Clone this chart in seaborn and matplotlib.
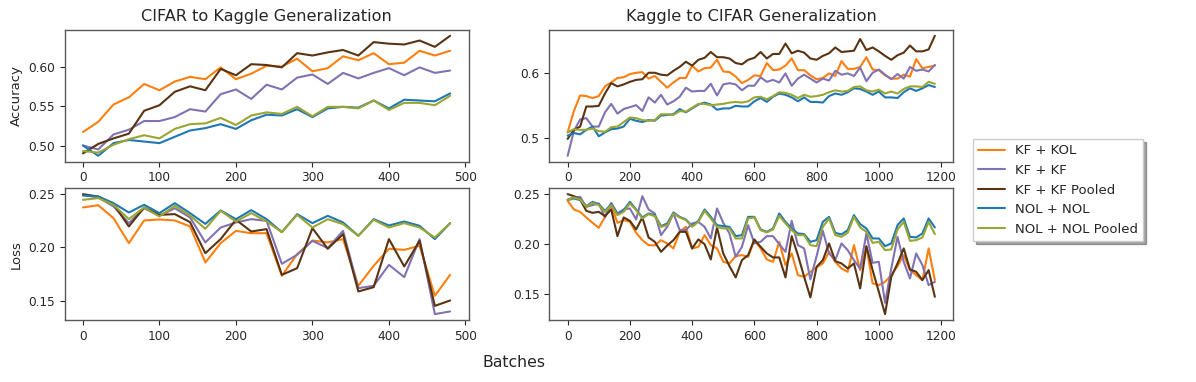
import pandas as pd
import numpy as np
import matplotlib
matplotlib.use("Agg")
import matplotlib.pyplot as plt
from matplotlib.ticker import MultipleLocator
import seaborn as sns

sns.set_style("ticks")
plt.rcParams['font.family'] = ['DejaVu Sans']
plt.rcParams['axes.edgecolor'] = '0.35'
plt.rcParams['xtick.color'] = '0.15'
plt.rcParams['ytick.color'] = '0.15'

labels = ['KF + KOL', 'KF + KF', 'KF + KF Pooled', 'NOL + NOL', 'NOL + NOL Pooled']
colors = ['#ff7f0e', '#8172b3', '#5a3412', '#1f77b4', '#9aa632']

# batches (x values)
batches_left = list(range(0, 500, 20))
batches_right = list(range(0, 1200, 20))

# CIFAR -> Kaggle accuracy
kol_acc_l = [0.517, 0.530, 0.552, 0.561, 0.578, 0.570, 0.581, 0.587, 0.584, 0.599, 0.584, 0.591, 0.601,
             0.600, 0.610, 0.594, 0.598, 0.613, 0.608, 0.617, 0.603, 0.605, 0.620, 0.614, 0.620]
kf_acc_l = [0.500, 0.495, 0.514, 0.520, 0.531, 0.531, 0.536, 0.546, 0.543, 0.565, 0.571, 0.559, 0.577,
            0.571, 0.586, 0.590, 0.578, 0.592, 0.585, 0.592, 0.598, 0.589, 0.599, 0.592, 0.595]
kfp_acc_l = [0.490, 0.502, 0.509, 0.515, 0.544, 0.551, 0.568, 0.575, 0.570, 0.597, 0.589, 0.603, 0.602,
             0.599, 0.617, 0.614, 0.618, 0.621, 0.614, 0.631, 0.629, 0.628, 0.633, 0.625, 0.639]
nol_acc_l = [0.500, 0.487, 0.503, 0.507, 0.505, 0.503, 0.511, 0.519, 0.522, 0.527, 0.521, 0.532, 0.539,
             0.538, 0.546, 0.536, 0.547, 0.549, 0.548, 0.557, 0.547, 0.558, 0.557, 0.556, 0.566]
nolp_acc_l = [0.493, 0.491, 0.501, 0.508, 0.513, 0.509, 0.521, 0.527, 0.528, 0.535, 0.526, 0.538, 0.542,
              0.540, 0.549, 0.537, 0.549, 0.549, 0.547, 0.557, 0.545, 0.554, 0.554, 0.551, 0.563]

# CIFAR -> Kaggle loss
kol_loss_l = [0.2373, 0.2394, 0.2273, 0.2040, 0.2252, 0.2261, 0.2252, 0.2196, 0.1860, 0.2040, 0.2155, 0.2133,
              0.2133, 0.1736, 0.1938, 0.2065, 0.2047, 0.2078, 0.1643, 0.1829, 0.1988, 0.1978, 0.2016, 0.1550, 0.1745]
kf_loss_l = [0.2491, 0.2466, 0.2382, 0.2227, 0.2366, 0.2295, 0.2366, 0.2280, 0.2047, 0.2186, 0.2233, 0.2264,
             0.2248, 0.1848, 0.1932, 0.2062, 0.1994, 0.2155, 0.1621, 0.1643, 0.1838, 0.1724, 0.2078, 0.1379, 0.1404]
kfp_loss_l = [0.2497, 0.2475, 0.2404, 0.2196, 0.2373, 0.2304, 0.2311, 0.2236, 0.1947, 0.2078, 0.2258, 0.2149,
              0.2171, 0.1745, 0.1807, 0.2180, 0.1988, 0.2124, 0.1590, 0.1630, 0.2078, 0.1823, 0.2062, 0.1456, 0.1506]
nol_loss_l = [0.2484, 0.2475, 0.2413, 0.2326, 0.2398, 0.2320, 0.2413, 0.2320, 0.2220, 0.2345, 0.2264, 0.2348,
              0.2264, 0.2143, 0.2311, 0.2227, 0.2295, 0.2233, 0.2109, 0.2264, 0.2205, 0.2242, 0.2202, 0.2078, 0.2227]
nolp_loss_l = [0.2444, 0.2460, 0.2398, 0.2264, 0.2373, 0.2289, 0.2388, 0.2298, 0.2174, 0.2342, 0.2242, 0.2320,
               0.2242, 0.2143, 0.2304, 0.2186, 0.2264, 0.2217, 0.2109, 0.2258, 0.2186, 0.2227, 0.2186, 0.2093, 0.2227]

# Kaggle -> CIFAR accuracy
kol_acc_r = [0.509, 0.542, 0.566, 0.565, 0.562, 0.565, 0.580, 0.586, 0.593, 0.594,
             0.599, 0.601, 0.602, 0.592, 0.596, 0.587, 0.578, 0.586, 0.593, 0.593,
             0.612, 0.603, 0.608, 0.609, 0.621, 0.603, 0.602, 0.595, 0.585, 0.590,
             0.597, 0.596, 0.616, 0.605, 0.606, 0.612, 0.623, 0.605, 0.605, 0.597,
             0.591, 0.593, 0.600, 0.596, 0.619, 0.607, 0.607, 0.610, 0.625, 0.606,
             0.605, 0.597, 0.592, 0.592, 0.598, 0.595, 0.622, 0.608, 0.610, 0.612]
kf_acc_r = [0.473, 0.511, 0.529, 0.531, 0.518, 0.518, 0.540, 0.553, 0.538, 0.545,
            0.548, 0.551, 0.542, 0.563, 0.555, 0.567, 0.552, 0.557, 0.564, 0.578,
            0.572, 0.573, 0.573, 0.584, 0.566, 0.583, 0.585, 0.583, 0.574, 0.581,
            0.581, 0.594, 0.587, 0.590, 0.586, 0.600, 0.581, 0.592, 0.598, 0.592,
            0.586, 0.592, 0.589, 0.604, 0.598, 0.600, 0.596, 0.609, 0.588, 0.601,
            0.606, 0.598, 0.591, 0.599, 0.592, 0.610, 0.604, 0.606, 0.603, 0.613]
kfp_acc_r = [0.499, 0.513, 0.518, 0.549, 0.549, 0.550, 0.569, 0.585, 0.580, 0.583,
             0.587, 0.590, 0.591, 0.601, 0.601, 0.598, 0.597, 0.604, 0.610, 0.618,
             0.612, 0.621, 0.624, 0.633, 0.625, 0.625, 0.623, 0.616, 0.614, 0.621,
             0.624, 0.633, 0.623, 0.630, 0.630, 0.646, 0.631, 0.635, 0.632, 0.623,
             0.621, 0.627, 0.631, 0.640, 0.633, 0.634, 0.635, 0.653, 0.636, 0.640,
             0.634, 0.627, 0.621, 0.628, 0.632, 0.643, 0.634, 0.634, 0.637, 0.658]
nol_acc_r = [0.504, 0.508, 0.506, 0.513, 0.518, 0.503, 0.509, 0.514, 0.515, 0.518,
             0.530, 0.527, 0.525, 0.528, 0.527, 0.535, 0.536, 0.537, 0.545, 0.540,
             0.546, 0.552, 0.555, 0.552, 0.544, 0.546, 0.546, 0.550, 0.549, 0.549,
             0.557, 0.562, 0.556, 0.564, 0.569, 0.567, 0.563, 0.557, 0.563, 0.556,
             0.556, 0.555, 0.565, 0.569, 0.567, 0.571, 0.577, 0.576, 0.572, 0.567,
             0.572, 0.563, 0.563, 0.562, 0.571, 0.577, 0.573, 0.577, 0.582, 0.579]
nolp_acc_r = [0.509, 0.514, 0.513, 0.513, 0.515, 0.511, 0.510, 0.517, 0.518, 0.525,
              0.532, 0.531, 0.528, 0.527, 0.528, 0.537, 0.537, 0.536, 0.542, 0.541,
              0.547, 0.553, 0.553, 0.551, 0.552, 0.553, 0.555, 0.556, 0.555, 0.557,
              0.563, 0.564, 0.560, 0.565, 0.571, 0.570, 0.567, 0.562, 0.567, 0.564,
              0.565, 0.567, 0.571, 0.574, 0.572, 0.573, 0.579, 0.580, 0.574, 0.572,
              0.575, 0.569, 0.572, 0.569, 0.576, 0.580, 0.580, 0.579, 0.587, 0.584]

# Kaggle -> CIFAR loss
kol_loss_r = [0.2433, 0.2347, 0.2323, 0.2267, 0.2213, 0.2163, 0.2273, 0.2390, 0.2213, 0.2240,
              0.2223, 0.2113, 0.2040, 0.1990, 0.1987, 0.2040, 0.2007, 0.1957, 0.2123, 0.2173,
              0.1957, 0.1973, 0.2090, 0.1990, 0.1957, 0.1823, 0.1807, 0.1880, 0.1890, 0.1873,
              0.2040, 0.1957, 0.1847, 0.1823, 0.2023, 0.1790, 0.1907, 0.1690, 0.1673, 0.1723,
              0.1767, 0.1807, 0.1923, 0.1823, 0.1757, 0.1723, 0.1990, 0.1740, 0.1973, 0.1607,
              0.1590, 0.1623, 0.1690, 0.1780, 0.1890, 0.1740, 0.1690, 0.1640, 0.1957, 0.1640]
kf_loss_r = [0.2447, 0.2467, 0.2473, 0.2373, 0.2390, 0.2407, 0.2267, 0.2413, 0.2307, 0.2347,
             0.2357, 0.2247, 0.2480, 0.2347, 0.2307, 0.2090, 0.2173, 0.2307, 0.2140, 0.2140,
             0.2207, 0.2223, 0.2173, 0.2057, 0.2357, 0.2213, 0.2107, 0.1873, 0.1973, 0.2190,
             0.2007, 0.2023, 0.2080, 0.2080, 0.2000, 0.1923, 0.2233, 0.1990, 0.1957, 0.1647,
             0.1880, 0.2133, 0.1907, 0.1840, 0.2007, 0.1940, 0.1840, 0.1757, 0.2107, 0.1813,
             0.1823, 0.1413, 0.1757, 0.2073, 0.1823, 0.1657, 0.1907, 0.1790, 0.1590, 0.1623]
kfp_loss_r = [0.2500, 0.2480, 0.2447, 0.2333, 0.2313, 0.2323, 0.2280, 0.2347, 0.2080, 0.2267,
              0.2233, 0.2147, 0.2267, 0.2067, 0.2023, 0.1923, 0.1987, 0.2040, 0.2123, 0.2123,
              0.1957, 0.2047, 0.2000, 0.1847, 0.2167, 0.1907, 0.1780, 0.1667, 0.1840, 0.1890,
              0.2047, 0.1973, 0.1907, 0.1867, 0.1867, 0.1667, 0.2080, 0.1890, 0.1673, 0.1467,
              0.1773, 0.1840, 0.2007, 0.1830, 0.1807, 0.1757, 0.1807, 0.1557, 0.1980, 0.1740,
              0.1523, 0.1300, 0.1673, 0.1807, 0.1957, 0.1747, 0.1723, 0.1640, 0.1740, 0.1473]
nol_loss_r = [0.2440, 0.2457, 0.2440, 0.2380, 0.2423, 0.2400, 0.2333, 0.2400, 0.2300, 0.2340,
              0.2423, 0.2347, 0.2267, 0.2307, 0.2290, 0.2180, 0.2207, 0.2317, 0.2273, 0.2247,
              0.2180, 0.2233, 0.2347, 0.2273, 0.2190, 0.2180, 0.2173, 0.2080, 0.2090, 0.2273,
              0.2273, 0.2147, 0.2123, 0.2157, 0.2307, 0.2223, 0.2157, 0.2107, 0.2100, 0.2023,
              0.2040, 0.2223, 0.2273, 0.2113, 0.2097, 0.2140, 0.2290, 0.2200, 0.2157, 0.2057,
              0.2057, 0.1980, 0.2007, 0.2190, 0.2257, 0.2073, 0.2067, 0.2107, 0.2257, 0.2167]
nolp_loss_r = [0.2440, 0.2467, 0.2447, 0.2373, 0.2413, 0.2390, 0.2323, 0.2390, 0.2290, 0.2323,
               0.2407, 0.2340, 0.2257, 0.2300, 0.2280, 0.2173, 0.2190, 0.2307, 0.2267, 0.2240,
               0.2173, 0.2223, 0.2333, 0.2257, 0.2173, 0.2157, 0.2157, 0.2057, 0.2057, 0.2257,
               0.2267, 0.2140, 0.2117, 0.2147, 0.2283, 0.2207, 0.2140, 0.2090, 0.2090, 0.1990,
               0.1980, 0.2173, 0.2257, 0.2090, 0.2073, 0.2113, 0.2273, 0.2167, 0.2123, 0.2013,
               0.2023, 0.1940, 0.1947, 0.2147, 0.2223, 0.2033, 0.2040, 0.2067, 0.2223, 0.2100]


def to_long(x, series):
    frames = []
    for name, vals in zip(labels, series):
        frames.append(pd.DataFrame({'Batches': x, 'value': vals, 'model': name}))
    return pd.concat(frames, ignore_index=True)


panels = [
    (to_long(batches_left, [kol_acc_l, kf_acc_l, kfp_acc_l, nol_acc_l, nolp_acc_l]), 0, 0, 0.05),
    (to_long(batches_right, [kol_acc_r, kf_acc_r, kfp_acc_r, nol_acc_r, nolp_acc_r]), 0, 1, 0.1),
    (to_long(batches_left, [kol_loss_l, kf_loss_l, kfp_loss_l, nol_loss_l, nolp_loss_l]), 1, 0, 0.05),
    (to_long(batches_right, [kol_loss_r, kf_loss_r, kfp_loss_r, nol_loss_r, nolp_loss_r]), 1, 1, 0.05),
]

fig, axes = plt.subplots(2, 2, figsize=(11.96, 3.82), dpi=100)
fig.subplots_adjust(left=0.054, right=0.797, top=0.922, bottom=0.162, wspace=0.2, hspace=0.2)

for df, r, c, ystep in panels:
    ax = axes[r, c]
    sns.lineplot(data=df, x='Batches', y='value', hue='model', hue_order=labels,
                 palette=colors, linewidth=1.5, ax=ax, legend=False)
    ax.set_xlabel('')
    ax.set_ylabel('')
    ax.yaxis.set_major_locator(MultipleLocator(ystep))
    ax.xaxis.set_major_locator(MultipleLocator(100 if c == 0 else 200))
    ax.tick_params(labelsize=8.7, length=3.5, width=0.8)
    for s in ax.spines.values():
        s.set_visible(True)
        s.set_linewidth(1.0)

axes[0, 0].set_title('CIFAR to Kaggle Generalization', fontsize=11.6)
axes[0, 1].set_title('Kaggle to CIFAR Generalization', fontsize=11.6)
axes[0, 0].set_ylabel('Accuracy', fontsize=9.5)
axes[1, 0].set_ylabel('Loss', fontsize=9.5)
fig.text(0.43, 0.05, 'Batches', ha='center', va='center', fontsize=11.3)

handles = axes[0, 0].get_lines()[:5]
leg = fig.legend(handles, labels, loc='center left', bbox_to_anchor=(0.8135, 0.5026),
                 borderaxespad=0, fontsize=9.5, fancybox=False, shadow=True,
                 frameon=True, edgecolor='0.8')

fig.savefig('out.png', dpi=100)
